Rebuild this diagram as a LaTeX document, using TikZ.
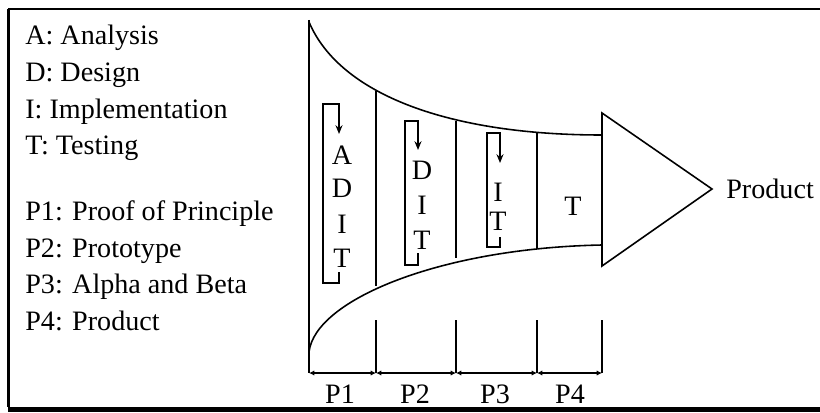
\documentclass[tikz,border=0pt]{standalone}
\usepackage{fontspec}
\setmainfont{Liberation Serif}
\usepackage{tikz}
\usetikzlibrary{arrows.meta,positioning}

\begin{document}
\begin{tikzpicture}[x=0.02cm,y=-0.02cm,
    leyenda/.style={anchor=base west,inner sep=0pt,font=\fontsize{16}{19}\selectfont},
    letra/.style={inner sep=0pt,font=\fontsize{16}{19}\selectfont},
    lazo/.style={line width=1.2pt,-{Stealth[length=5pt,width=4pt]}},
    fase/.style={line width=0.8pt,{Latex[length=3pt,width=3pt]}-{Latex[length=3pt,width=3pt]}}]
  \useasboundingbox (0,0) rectangle (820,412);

  % Marco
  \draw[line width=1.3pt] (8,9) -- (820,9);
  \draw[line width=1.3pt] (8.5,9) -- (8.5,407);

  % Leyenda
  \node[leyenda] (la) at (25,45) {A: Analysis};
  \node[leyenda] (ld) at (25,82) {D: Design};
  \node[leyenda] (li) at (25,118) {I: Implementation};
  \node[leyenda] (lt) at (25,154) {T: Testing};
  \node[leyenda] (lp1) at (25,220) {P1: Proof of Principle};
  \node[leyenda] (lp2) at (25,257) {P2: Prototype};
  \node[leyenda] (lp3) at (25,293) {P3: Alpha and Beta};
  \node[leyenda] (lp4) at (25,330) {P4: Product};

  % Embudo
  \draw[line width=0.9pt] (309,20) -- (309,373);
  \draw[line width=0.9pt] (309,22) .. controls (340,95) and (450,135) .. (602,135);
  \draw[line width=0.9pt] (309,352) .. controls (315,300) and (440,248) .. (602,245);
  \draw[line width=0.9pt] (376,91) -- (376,286);
  \draw[line width=0.9pt] (456,121) -- (456,258);
  \draw[line width=0.9pt] (537,133) -- (537,248);

  % Flecha del producto
  \draw[line width=0.9pt,fill=white] (602,113) -- (712,189) -- (602,266) -- cycle;
  \node[letra,anchor=west] (prod) at (726,189) {Product};

  % Ciclos de cada fase
  \draw[lazo] (339,272) -- (339,283) -- (323,283) -- (323,104) -- (339,104) -- (339,134);
  \node[letra] (a1) at (342,155) {A};
  \node[letra] (d1) at (342,188) {D};
  \node[letra] (i1) at (342,224) {I};
  \node[letra] (t1) at (342,258) {T};

  \draw[lazo] (418,253) -- (418,265) -- (405,265) -- (405,121) -- (418,121) -- (418,150);
  \node[letra] (d2) at (422,170) {D};
  \node[letra] (i2) at (422,205) {I};
  \node[letra] (t2) at (422,240) {T};

  \draw[lazo] (500,237) -- (500,247) -- (487,247) -- (487,133) -- (500,133) -- (500,163);
  \node[letra] (i3) at (498,192) {I};
  \node[letra] (t3) at (498,221) {T};

  \node[letra] (t4) at (573,206) {T};

  % Eje de fases
  \coordinate (b0) at (309,373);
  \coordinate (b1) at (376,373);
  \coordinate (b2) at (456,373);
  \coordinate (b3) at (537,373);
  \coordinate (b4) at (602,373);
  \foreach \b in {b1,b2,b3,b4}
    \draw[line width=1.3pt] (\b) -- ++(0,-53);
  \draw[fase] (b0) -- (b1);
  \draw[fase] (b1) -- (b2);
  \draw[fase] (b2) -- (b3);
  \draw[fase] (b3) -- (b4);
  \node[letra,anchor=base] (p1) at (340,403) {P1};
  \node[letra,anchor=base] (p2) at (415,403) {P2};
  \node[letra,anchor=base] (p3) at (495,403) {P3};
  \node[letra,anchor=base] (p4) at (570,403) {P4};

  % Borde inferior
  \fill (8,407) rectangle (820,412);
\end{tikzpicture}
\end{document}
